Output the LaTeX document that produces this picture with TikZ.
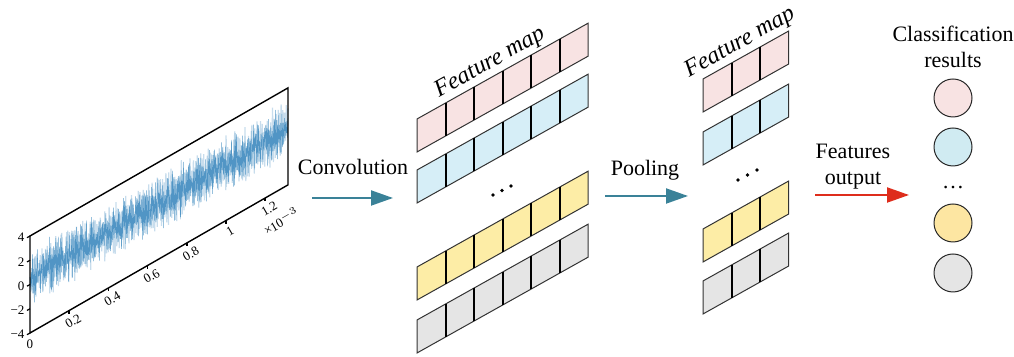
\documentclass[tikz,border=0pt]{standalone}
\usepackage{fontspec}
\setmainfont{Liberation Serif}
\usetikzlibrary{arrows.meta}

\definecolor{mappink}{RGB}{248,227,227}
\definecolor{mapblue}{RGB}{214,238,247}
\definecolor{mapyellow}{RGB}{253,237,166}
\definecolor{mapgray}{RGB}{229,229,229}
\definecolor{clsblue}{RGB}{208,235,242}
\definecolor{clsyellow}{RGB}{253,230,162}
\definecolor{convteal}{RGB}{58,130,152}
\definecolor{outred}{RGB}{222,45,28}
\definecolor{sigblue}{RGB}{31,119,180}

% one slanted row of feature cells: x, y, cells, fill
\newcommand{\featrow}[4]{%
  \begin{scope}[shift={(#1,#2)}, yslant=0.56]
    \filldraw[fill=#4, draw=black!80, line width=0.5pt] (0,0) rectangle (#3*28.5,33);
    \pgfmathtruncatemacro\lastcell{#3-1}
    \foreach \c in {1,...,\lastcell}
      \draw[line width=1pt] (\c*28.5,0) -- (\c*28.5,33);
  \end{scope}}

\begin{document}
\begin{tikzpicture}[x=0.5pt, y=0.5pt,
    lbl/.style={font=\fontsize{11}{13}\selectfont, align=center},
    maplbl/.style={font=\fontsize{12}{14}\selectfont\itshape, rotate=29},
    ticklbl/.style={font=\fontsize{6.5}{8}\selectfont, inner sep=1pt},
    cls/.style={circle, draw=black!85, line width=0.5pt, minimum size=19pt, inner sep=0pt},
    flow/.style={line width=1pt, -{Triangle[length=11pt, width=7.5pt]}}]
  \useasboundingbox (0,0) rectangle (1014,357);

  % sheared signal plot, zigzag noise
  \begin{scope}[shift={(30,24)}, yslant=0.574]
    \pgfmathsetseed{11}
    \draw[sigblue!35, opacity=0.7, line width=0.6pt, line join=bevel] (0,56)
      \foreach \i in {1,...,300}{ -- ({\i*0.86},{56+(1-2*mod(\i,2))*(7+19*rnd)+5*rand}) };
    \draw[sigblue, opacity=0.7, line width=0.22pt, line join=bevel] (0,56)
      \foreach \i in {1,...,420}{ -- ({\i*0.6143},{56+(1-2*mod(\i,2))*(5+20*rnd)+5*rand}) };
    \draw[line width=0.7pt] (0,0) rectangle (258,97);
    \foreach \v/\t in {0/−4, 24.25/−2, 48.5/0, 72.75/2, 97/4}
      \draw[line width=0.6pt] (0,\v) -- (-3,\v) node[left, ticklbl] {\t};
    \node[ticklbl] (xzero) at (0,-11) {0};
    \foreach \u/\t in {39.2/0.2, 78.4/0.4, 117.6/0.6, 156.8/0.8, 196/1, 235.2/1.2}{
      \draw[line width=0.8pt] (\u,0) -- (\u,-3.5);
      \node[ticklbl, rotate=30] at (\u+4,-13) {\t};
    }
    \node[ticklbl, rotate=30] (xscale) at (251,-32) {×10$^{-3}$};
  \end{scope}

  % convolution
  \node[lbl] (conv) at (353,190) {Convolution};
  \coordinate (convA) at (312,159);
  \coordinate (convB) at (393,159);
  \draw[flow, convteal] (convA) -- (convB);

  \featrow{417}{205}{6}{mappink}
  \featrow{417}{154}{6}{mapblue}
  \featrow{417}{57}{6}{mapyellow}
  \featrow{417}{4}{6}{mapgray}
  \node[maplbl] (fmapA) at (490,294) {Feature map};
  \fill (493,162) circle (1.8) (502,166.5) circle (1.8) (511,171) circle (1.8);

  % pooling
  \node[lbl] (pool) at (645,187) {Pooling};
  \coordinate (poolA) at (605,161);
  \coordinate (poolB) at (688,161);
  \draw[flow, convteal] (poolA) -- (poolB);

  \featrow{703}{245}{3}{mappink}
  \featrow{703}{192}{3}{mapblue}
  \featrow{703}{95}{3}{mapyellow}
  \featrow{703}{43}{3}{mapgray}
  \node[maplbl] (fmapB) at (740,314) {Feature map};
  \fill (738,177) circle (1.8) (747.5,182) circle (1.8) (757,187) circle (1.8);

  % output
  \node[lbl] (featout) at (853,190) {Features\\output};
  \coordinate (outA) at (815,162);
  \coordinate (outB) at (909,162);
  \draw[flow, outred] (outA) -- (outB);

  \node[lbl] (clsres) at (953,310) {Classification\\results};
  \node[cls, fill=mappink] (c1) at (953,259) {};
  \node[cls, fill=clsblue] (c2) at (953,210) {};
  \node[lbl, anchor=base] (cdots) at (953,168) {…};
  \node[cls, fill=clsyellow] (c3) at (953,134) {};
  \node[cls, fill=mapgray] (c4) at (953,84) {};
\end{tikzpicture}
\end{document}
